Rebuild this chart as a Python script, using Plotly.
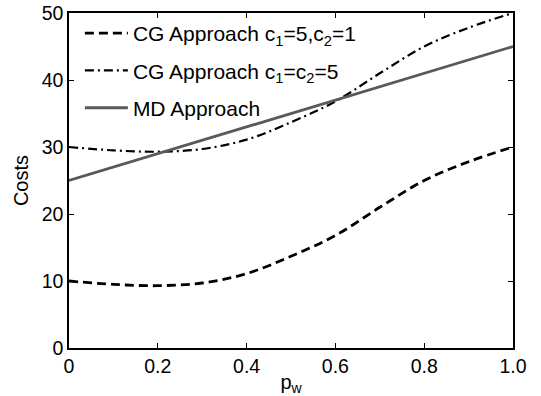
import plotly.graph_objects as go

p_w = [0.0, 0.1, 0.2, 0.3, 0.4, 0.5, 0.6, 0.7, 0.8, 0.9, 1.0]
cg_5_1 = [10.0, 9.5, 9.3, 9.7, 11.1, 13.7, 16.8, 21.0, 25.0, 27.8, 30.0]
cg_5_5 = [30.0, 29.5, 29.3, 29.7, 31.1, 33.7, 36.8, 41.0, 45.0, 47.8, 50.0]
md = [25.0, 27.0, 29.0, 31.0, 33.0, 35.0, 37.0, 39.0, 41.0, 43.0, 45.0]

x_ticks = [0, 0.2, 0.4, 0.6, 0.8, 1.0]
x_tick_labels = ["0", "0.2", "0.4", "0.6", "0.8", "1.0"]
y_ticks = [0, 10, 20, 30, 40, 50]

FONT = "Liberation Sans, Arial, Helvetica"

fig = go.Figure()
fig.add_trace(go.Scatter(x=p_w, y=cg_5_1, mode="lines", line_shape="spline",
                         name="CG Approach c<sub>1</sub>=5,c<sub>2</sub>=1",
                         legendgroup="a",
                         line=dict(color="black", width=2.8, dash="9px,5px")))
fig.add_trace(go.Scatter(x=p_w, y=cg_5_5, mode="lines", line_shape="spline",
                         name="CG Approach c<sub>1</sub>=c<sub>2</sub>=5",
                         legendgroup="b",
                         line=dict(color="black", width=2.2, dash="9px,4px,2px,4px")))
fig.add_trace(go.Scatter(x=p_w, y=md, mode="lines",
                         name="MD Approach",
                         legendgroup="c",
                         line=dict(color="#595959", width=2.8)))

axis_common = dict(showgrid=False, zeroline=False, showline=True, linecolor="black",
                   linewidth=1.5, mirror="ticks", ticks="inside", ticklen=5,
                   tickcolor="black", tickwidth=1, automargin=False,
                   ticklabeloverflow="allow",
                   tickfont=dict(family=FONT, size=19.5, color="black"))

fig.update_layout(
    template="none",
    width=541, height=396,
    margin=dict(l=69, r=28, t=13, b=48, pad=0),
    paper_bgcolor="white", plot_bgcolor="white",
    font=dict(family=FONT, size=19.5, color="black"),
    showlegend=True,
    xaxis=dict(range=[0, 1], tickvals=x_ticks, ticktext=x_tick_labels,
               title=dict(text="p<sub>w</sub>", standoff=0,
                          font=dict(family=FONT, size=20)),
               **axis_common),
    yaxis=dict(range=[0, 50], tickvals=y_ticks,
               title=dict(text="Costs", standoff=8,
                          font=dict(family=FONT, size=20)),
               **axis_common),
    legend=dict(x=0.0245, y=1.0, xanchor="left", yanchor="top",
                bgcolor="rgba(255,255,255,0)", borderwidth=0,
                traceorder="grouped", tracegroupgap=7, itemwidth=43,
                font=dict(family=FONT, size=21)),
)

fig.write_html("out.html",
               config={"displayModeBar": False},
               post_script="document.body.style.margin='0';document.body.style.overflow='hidden';")
